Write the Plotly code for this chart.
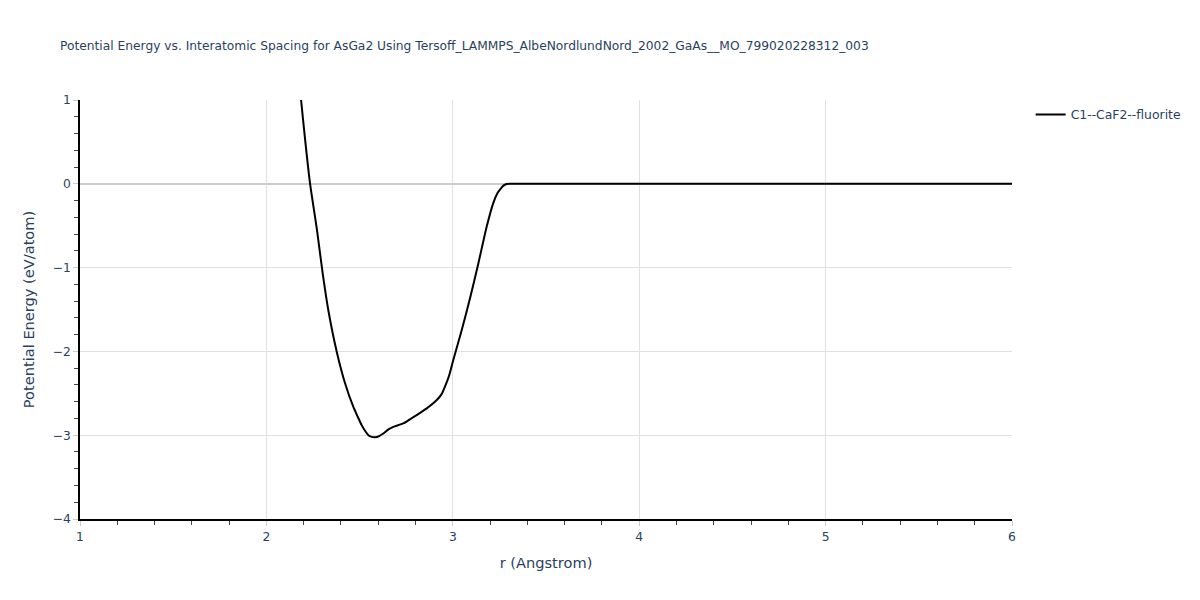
import plotly.graph_objects as go

r_vals = [2.16, 2.186, 2.207, 2.234, 2.27, 2.302, 2.332, 2.377, 2.422, 2.466, 2.49, 2.511, 2.53,
          2.547, 2.565, 2.583, 2.605, 2.627, 2.655, 2.681, 2.734, 2.77, 2.806, 2.86, 2.914, 2.94,
          2.958, 2.98, 3.003, 3.048, 3.092, 3.137, 3.182, 3.217, 3.24, 3.253, 3.27, 3.289, 3.31,
          3.5, 4.0, 4.5, 5.0, 5.5, 6.0]
energy = [1.6, 1.0, 0.543, 0.006, -0.53, -1.07, -1.506, -2.0, -2.38, -2.66, -2.78, -2.88, -2.95,
          -3.0, -3.02, -3.025, -3.01, -2.98, -2.93, -2.90, -2.86, -2.81, -2.76, -2.68, -2.58, -2.51,
          -2.42, -2.29, -2.10, -1.745, -1.37, -0.95, -0.51, -0.23, -0.11, -0.07, -0.025, -0.003, 0.0,
          0.0, 0.0, 0.0, 0.0, 0.0, 0.0]

title = "Potential Energy vs. Interatomic Spacing for AsGa2 Using Tersoff_LAMMPS_AlbeNordlundNord_2002_GaAs__MO_799020228312_003"
FONT = "DejaVu Sans"

fig = go.Figure()
fig.add_trace(go.Scatter(x=r_vals, y=energy, mode="lines", name="C1--CaF2--fluorite",
                         line=dict(color="black", width=2, shape="spline", smoothing=0.6)))

fig.update_layout(
    template="plotly_white",
    title=dict(text=title, x=0.0439, y=0.9435, xanchor="left",
               font=dict(family=FONT, size=12.25, color="#2a3f5f")),
    margin=dict(l=72, r=180, t=92, b=73, autoexpand=False),
    showlegend=True,
    legend=dict(x=1.02, y=1, xanchor="left", yanchor="top",
                font=dict(family=FONT, size=12.4, color="#2a3f5f")),
    font=dict(family=FONT, color="#2a3f5f", size=12.3),
)
fig.update_xaxes(range=[1, 6], title=dict(text="r (Angstrom)", font=dict(size=14.6)),
                 showline=True, linecolor="black", linewidth=1.5, ticks="outside",
                 tickcolor="#cccccc", ticklen=5, dtick=1, gridcolor="#e0e0e0",
                 minor=dict(ticks="outside", dtick=0.2, ticklen=4, tickcolor="#444", showgrid=False),
                 zeroline=False, mirror=False, automargin=False)
fig.update_yaxes(range=[-4, 1], title=dict(text="Potential Energy (eV/atom)", font=dict(size=14.6)),
                 showline=True, linecolor="black", linewidth=1.5, ticks="outside",
                 tickcolor="#cccccc", ticklen=5, dtick=1, gridcolor="#e0e0e0",
                 minor=dict(ticks="outside", dtick=0.2, ticklen=4, tickcolor="#444", showgrid=False),
                 zeroline=True, zerolinecolor="#cccccc", zerolinewidth=2, automargin=False)

fig.write_html("out.html")
